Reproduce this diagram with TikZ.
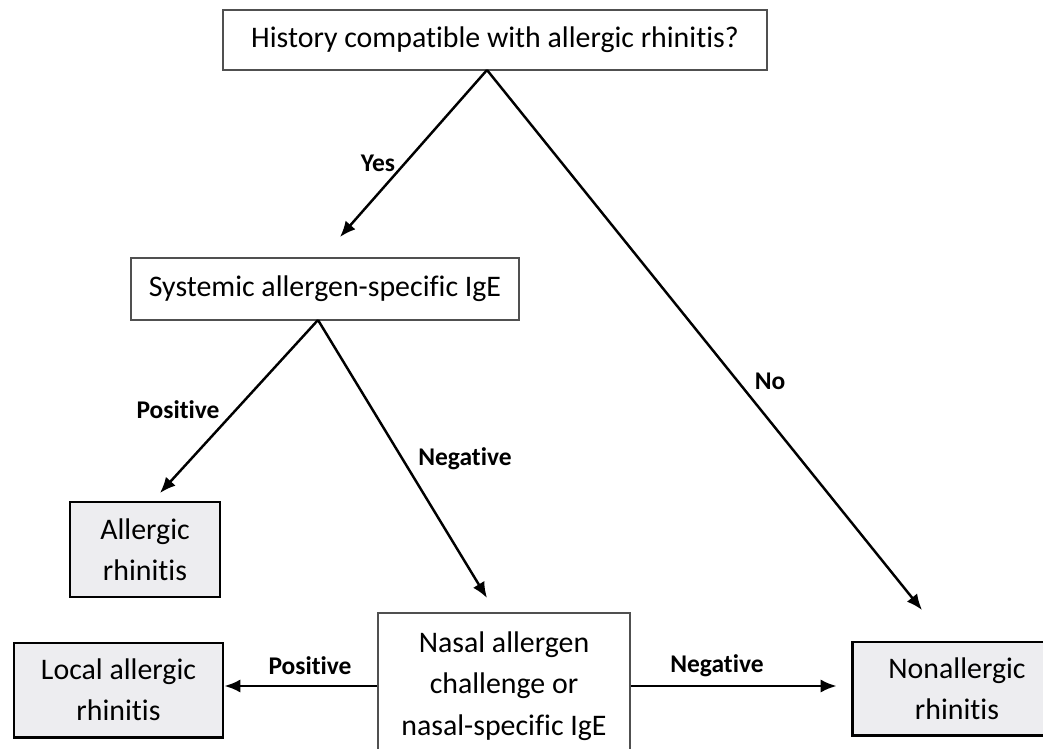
\documentclass[tikz,border=0pt]{standalone}
\usepackage{fontspec}
\setmainfont{Carlito}[Ligatures=CommonOff]
\usetikzlibrary{arrows.meta,positioning}
\definecolor{shade}{RGB}{237,237,240}
\definecolor{rim}{RGB}{80,80,80}
\newlength\px
\setlength\px{0.02cm}
\tikzset{
  every picture/.style={font=\fontsize{17}{23.5}\selectfont},
  query/.style={draw=rim,line width=0.9pt,align=center,inner sep=0pt},
  outcome/.style={draw=black,line width=1.7pt,fill=shade,align=center,inner sep=0pt},
  link/.style={line width=1.4pt,-{Latex[length=9pt,width=7.5pt]}},
  tag/.style={font=\bfseries\fontsize{14.5}{16}\selectfont},
}

\begin{document}
\begin{tikzpicture}[x=0.02cm,y=-0.02cm]
  \useasboundingbox (0,0) rectangle (1043,749);
  \clip (0,0) rectangle (1043,749);
  % boxes
  \node[query,minimum width=544\px,minimum height=60\px] (hist) at (495,40)
    {History compatible with allergic rhinitis?};
  \node[query,minimum width=388\px,minimum height=62\px] (sys) at (325,289)
    {Systemic allergen-specific IgE};
  \node[query,minimum width=252\px,minimum height=146\px] (nasal) at (504,686)
    {Nasal allergen\\challenge or\\nasal-specific IgE};
  \node[outcome,minimum width=150\px,minimum height=95\px] (ar) at (145,549.5)
    {Allergic\\rhinitis};
  \node[outcome,minimum width=209\px,minimum height=94\px] (lar) at (118.5,690)
    {Local allergic\\rhinitis};
  \node[outcome,minimum width=210\px,minimum height=93\px] (nar) at (957,688.5)
    {Nonallergic\\rhinitis};
  % forks and arrow ends
  \coordinate (hfork) at (487,70);
  \coordinate (sfork) at (318,320);
  \coordinate (yesend) at (340,237);
  \coordinate (noend) at (922,610);
  \coordinate (posend) at (160,493);
  \coordinate (negend) at (487,598);
  \coordinate (narend) at ([xshift=-14\px]nar.west);
  \draw[link] (hfork) -- (yesend);
  \draw[link] (hfork) -- (noend);
  \draw[link] (sfork) -- (posend);
  \draw[link] (sfork) -- (negend);
  \draw[link] (nasal.west) -- (nasal.west -| lar.east);
  \draw[link] (nasal.east) -- (nasal.east -| narend);
  % labels
  \node[tag] (yes) at (378,163) {Yes};
  \node[tag] (no) at (770,381) {No};
  \node[tag] (pos) at (178,410) {Positive};
  \node[tag] (neg) at (465,459) {Negative};
  \node[tag] (lpos) at (310,666) {Positive};
  \node[tag] (rneg) at (717,666) {Negative};
\end{tikzpicture}
\end{document}
